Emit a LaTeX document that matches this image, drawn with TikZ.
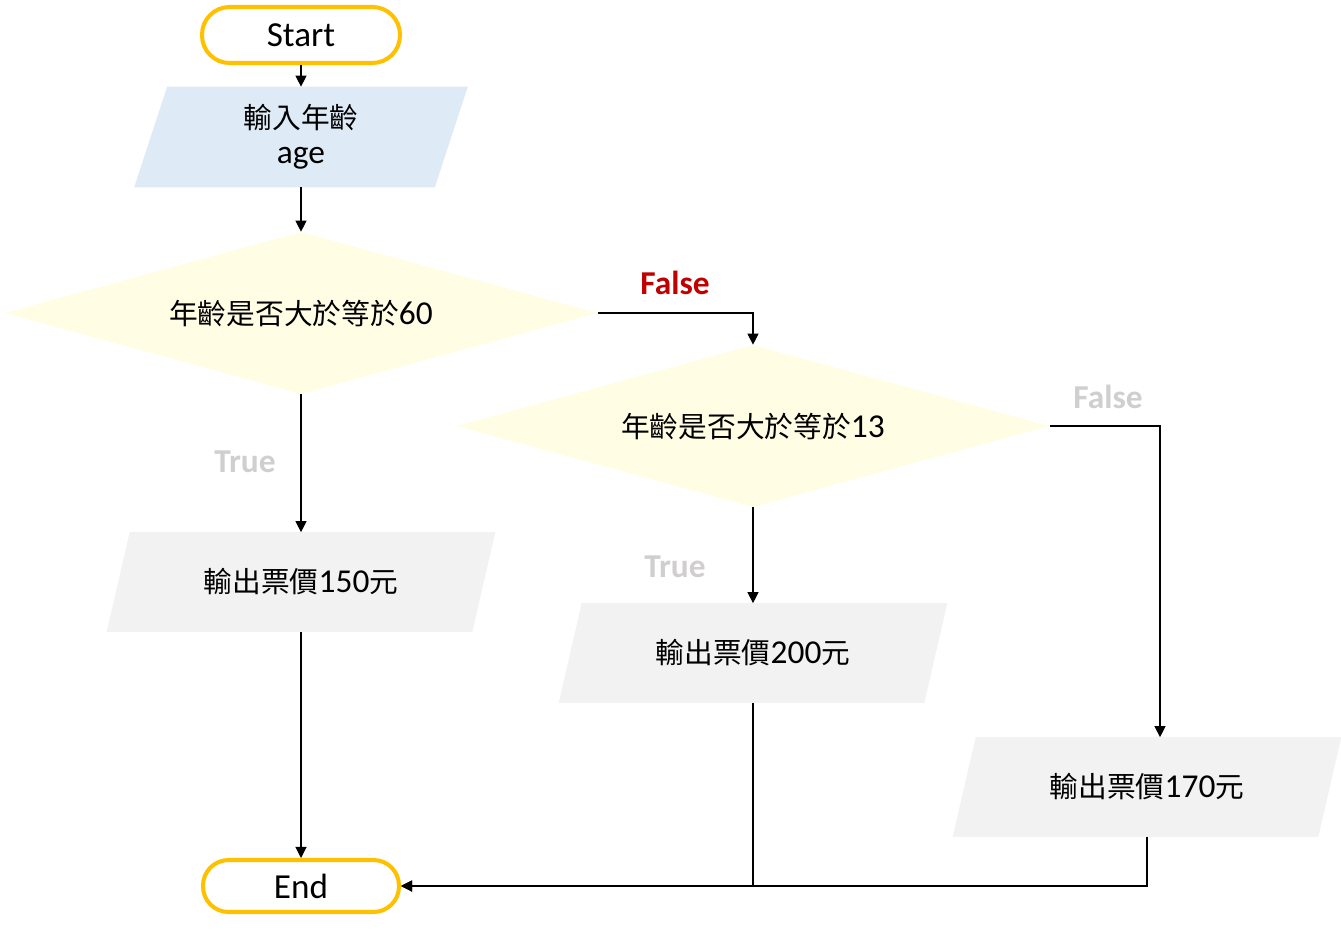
\documentclass[tikz,border=0pt]{standalone}
\usepackage{fontspec}
\setmainfont{Carlito}
\newfontfamily\cjk[Scale=0.86]{Noto Sans CJK TC}
\usetikzlibrary{shapes.geometric,arrows.meta,backgrounds}

\definecolor{TermYellow}{HTML}{FFC000}
\definecolor{InBlue}{HTML}{DEEBF7}
\definecolor{OutGray}{HTML}{F2F2F2}
\definecolor{DecYellow}{HTML}{FFFDE3}
\definecolor{FalseRed}{HTML}{C00000}
\definecolor{LabelGray}{HTML}{D0CECE}

\newcommand\ticket[1]{{\cjk 輸出票價}#1{\cjk 元}}

\tikzset{
	term/.style={draw=TermYellow, line width=2.3pt, fill=white, rounded corners=0.55cm, minimum width=3.96cm, minimum height=1.12cm, font=\fontsize{20pt}{24pt}\selectfont},
	inbox/.style={minimum width=6cm, minimum height=2cm, inner sep=0pt, align=center, font=\fontsize{19pt}{20pt}\selectfont},
	outbox/.style={minimum width=7.3cm, minimum height=1.98cm, inner sep=0pt, font=\fontsize{19pt}{22pt}\selectfont},
	decide/.style={diamond, aspect=3.66, minimum width=11.86cm, minimum height=3.24cm, fill=DecYellow, inner sep=0pt, font=\fontsize{19pt}{22pt}\selectfont},
	conn/.style={-{Triangle[length=2.2mm,width=2.2mm]}, line width=0.6pt},
	lbl/.style={font=\bfseries\fontsize{19pt}{22pt}\selectfont}
}

\begin{document}
\begin{tikzpicture}[x=0.02cm, y=-0.02cm]

\useasboundingbox (0,0) rectangle (1341,932);

% shapes
\node[term] (start) at (301,35) {Start};
\node[inbox] (input) at (301,137) {{\cjk 輸入年齡}\\age};
\node[decide] (d60) at (301,313) {{\cjk 年齡是否大於等於}60};
\node[decide] (d13) at (753,426) {{\cjk 年齡是否大於等於}13};
\node[outbox] (p150) at (301,582) {\ticket{150}};
\node[outbox] (p200) at (753,653) {\ticket{200}};
\node[outbox] (p170) at (1147,787) {\ticket{170}};
\node[term, minimum height=1.04cm, minimum width=3.92cm, rounded corners=0.51cm] (end) at (301,886) {End};

% slanted fills behind the in/out boxes
\begin{scope}[on background layer]
\fill[InBlue] ([xshift=0.33cm]input.north west) -- ([xshift=0.33cm]input.north east)
	-- ([xshift=-0.33cm]input.south east) -- ([xshift=-0.33cm]input.south west) -- cycle;
\foreach \b in {p150,p200,p170}
	\fill[OutGray] ([xshift=0.23cm]\b.north west) -- ([xshift=0.23cm]\b.north east)
		-- ([xshift=-0.23cm]\b.south east) -- ([xshift=-0.23cm]\b.south west) -- cycle;
\end{scope}

% labels
\node[lbl, text=FalseRed] (f60) at (675,283) {False};
\node[lbl, text=LabelGray] (f13) at (1108,397) {False};
\node[lbl, text=LabelGray] (t60) at (245,462) {True};
\node[lbl, text=LabelGray] (t13) at (675,567) {True};

% connectors
\draw[conn] (start) -- (input);
\draw[conn] (input) -- (d60);
\draw[conn] (d60.east) -| (d13.north);
\draw[conn] (d60) -- (p150);
\draw[conn] (d13) -- (p200);
\draw[conn] (d13.east) -| ([xshift=0.26cm]p170.north);
\draw[conn] (p150) -- (end);
\draw[conn] (p200.south) |- (end.east);
\draw[conn] (p170.south) |- (end.east);

\end{tikzpicture}
\end{document}
